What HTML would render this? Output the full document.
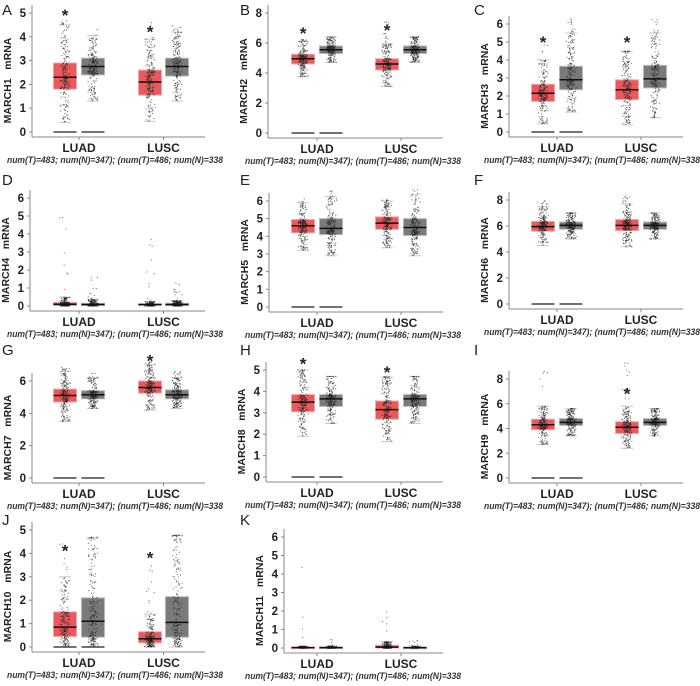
<!DOCTYPE html>
<html><head><meta charset="utf-8"><style>
html,body{margin:0;padding:0;background:#fff;}
svg{display:block;font-family:"Liberation Sans",Arial,sans-serif;}
</style></head><body>
<svg id="fig" width="700" height="686" viewBox="0 0 700 686"></svg>
<script>
// ---- data ----
const panelLetters = ["A","B","C","D","E","F","G","H","I","J","K"];
const panelGenes = ["MARCH1","MARCH2","MARCH3","MARCH4","MARCH5","MARCH6","MARCH7","MARCH8","MARCH9","MARCH10","MARCH11"];
const categories = ["LUAD","LUSC"];
const groups = ["LUAD-T","LUAD-N","LUSC-T","LUSC-N"];
const tickMax = [5,8,6,6,6,8,6,5,8,5,6];
const tickStep = [1,2,1,1,1,2,2,1,2,1,1];
const q1 = [[1.8,2.4,1.55,2.35],[4.6,5.3,4.2,5.3],[1.7,2.35,1.8,2.45],[0.02,0.02,0.02,0.02],[4.2,4.1,4.4,4.05],[5.6,5.75,5.65,5.75],[4.7,4.9,5.25,4.9],[3.05,3.3,2.7,3.3],[3.9,4.25,3.6,4.25],[0.45,0.42,0.18,0.42],[0,0,0,0]];
const med = [[2.3,2.75,2.1,2.75],[4.95,5.55,4.6,5.55],[2.15,2.9,2.35,2.95],[0.1,0.08,0.08,0.08],[4.6,4.45,4.75,4.5],[5.95,6.05,6.05,6.05],[5.1,5.15,5.6,5.15],[3.5,3.65,3.15,3.65],[4.3,4.5,4.1,4.5],[0.85,1.1,0.35,1.05],[0.02,0.02,0.05,0.02]];
const q3 = [[2.9,3.1,2.6,3.1],[5.25,5.8,4.95,5.8],[2.65,3.65,2.9,3.7],[0.2,0.15,0.12,0.15],[4.95,5.0,5.1,5.0],[6.35,6.3,6.5,6.3],[5.5,5.4,6.0,5.45],[3.85,3.85,3.55,3.85],[4.75,4.8,4.55,4.8],[1.5,2.1,0.65,2.15],[0.05,0.05,0.15,0.04]];
const wlo = [[0.4,1.3,0.45,1.3],[3.75,4.7,3.1,4.7],[0.45,1.1,0.4,0.8],[0,0,0,0],[3.2,2.9,3.35,2.9],[4.5,5.0,4.4,5.0],[3.5,4.3,4.2,4.3],[1.9,2.5,1.65,2.5],[2.7,3.4,2.4,3.4],[0,0,0,0],[0,0,0,0]];
const whi = [[4.5,4.05,3.9,4.2],[6.1,6.4,5.95,6.4],[4.0,5.5,4.45,5.5],[0.5,0.38,0.25,0.3],[5.9,6.25,6.0,6.35],[7.5,7.0,7.7,7.0],[6.6,6.2,7.0,6.2],[5.0,4.7,4.65,4.7],[5.8,5.6,5.8,5.6],[3.0,4.65,1.4,4.75],[0.1,0.1,0.35,0.1]];
const tailMax = [[4.7,4.5,4.7,4.5],[6.3,6.4,7.5,6.4],[4.9,6.3,4.5,6.3],[6.5,1.6,4.1,1.6],[6.2,6.7,6.2,6.7],[8.0,7.0,8.3,7.0],[6.9,6.6,7.2,6.6],[5.0,4.7,4.7,4.7],[8.8,5.6,9.6,5.6],[4.9,4.7,3.7,4.8],[6.3,0.6,5.1,0.45]];
const zeroLine = [[1,1,0,0],[1,1,0,0],[1,1,0,0],[0,0,0,0],[1,1,0,0],[1,1,0,0],[1,1,0,0],[1,1,0,0],[1,1,0,0],[1,1,0,0],[0,0,0,0]];
const starLUAD = [5.0,6.8,5.1,null,null,null,null,5.4,null,4.2,null];
const starLUSC = [4.3,7.0,5.1,null,null,null,7.4,5.0,7.0,3.9,null];
const footnote = "num(T)=483; num(N)=347); (num(T)=486; num(N)=338";

// ---- layout (pixels) ----
const axisXs = [32,268,509,30,269,509,32,266,509,32,284];
const yTopPix = [13,13,24,198,201,200,381,370,379,530,537];
const yZeroPix = [132,133,132,306,307,304,478,477,478,647,648];
const colCenters = [[65,93,150,177],[303,331,387,415],[543,571,627,655]];
const colX = [0,232,466];
const noteX = [7,245,484];
const rowY = [0,170,340,510];

const NS = "http://www.w3.org/2000/svg";
const svg = document.getElementById("fig");
function mk(tag, attrs, parent){const e=document.createElementNS(NS,tag);for(const k in attrs)e.setAttribute(k,attrs[k]);(parent||svg).appendChild(e);return e;}
let seed = 12345;
function rnd(){seed=(seed*1103515245+12345)%2147483648;return seed/2147483648;}

for(let p=0;p<11;p++){
  const col = p%3, row = Math.floor(p/3);
  const cc = colCenters[p===10?1:col];
  const ax = axisXs[p], yt = yTopPix[p], y0 = yZeroPix[p];
  const ys = v => y0 - (v/tickMax[p])*(y0-yt);
  const g = mk("g",{});
  
  
  const L = mk("text",{x:colX[col]+(col===0?2:8),y:rowY[row]+15,"font-size":"15",fill:"#222"},g);
  L.textContent = panelLetters[p];
  
  
  const xEnd = cc[3]+28;
  const yax = mk("line",{x1:ax,y1:yt-8,x2:ax,y2:y0+5,stroke:"#888","stroke-width":1},g);
  
  
  const xax = mk("line",{x1:ax,y1:y0+5,x2:xEnd,y2:y0+5,stroke:"#888","stroke-width":1},g);
  
  
  for(let v=0; v<=tickMax[p]+1e-9; v+=tickStep[p]){
    const y = ys(v);
    mk("line",{x1:ax-3,y1:y,x2:ax,y2:y,stroke:"#888"},g);
    const t = mk("text",{x:ax-6,y:y+4,"font-size":"11.5","font-weight":"bold","text-anchor":"end",fill:"#222"},g);
    t.textContent = v;
    
    
  }
  const ym = (yt+y0)/2 + 8;
  const yl = mk("text",{x:0,y:0,"font-size":"10.5","font-weight":"bold","text-anchor":"middle",fill:"#222",transform:`translate(${ax-21},${ym}) rotate(-90)`},g);
  yl.textContent = panelGenes[p]+"\u00a0\u00a0\u00a0mRNA";
  
  
  for(let c=0;c<2;c++){
    const cx = (cc[2*c]+cc[2*c+1])/2;
    mk("line",{x1:cx,y1:y0+5,x2:cx,y2:y0+8,stroke:"#888"},g);
    const t = mk("text",{x:cx,y:y0+20,"font-size":"12","font-weight":"bold","text-anchor":"middle",fill:"#222"},g);
    t.textContent = categories[c];
    
    
  }
  const fn = mk("text",{x:noteX[p===10?1:col],y:y0+31,"font-size":"8.8","font-weight":"bold","font-style":"italic",fill:"#333",textLength:216,lengthAdjust:"spacingAndGlyphs"},g);
  fn.textContent = footnote;
  
  
  for(let k=0;k<4;k++){
    const cx = cc[k], w = 23, tumor = (k%2===0);
    const fill = tumor ? "#ea5a5c" : "#7a7a7a";
    const edge = tumor ? "#f0a8a8" : "#b8b8b8";
    const qa=q1[p][k], qm=med[p][k], qb=q3[p][k], lo=wlo[p][k], hi=whi[p][k];
    mk("line",{x1:cx-6,y1:ys(hi),x2:cx+6,y2:ys(hi),stroke:"#c8c8c8","stroke-width":1},g);
    mk("line",{x1:cx-6,y1:ys(lo),x2:cx+6,y2:ys(lo),stroke:"#c8c8c8","stroke-width":1},g);
    const h = Math.max(1.5, ys(qa)-ys(qb));
    const box = mk("rect",{x:cx-w/2,y:ys(qb),width:w,height:h,fill:fill,stroke:edge,"stroke-width":1},g);
    
    
    const n = 220;
    const qs=[lo,qa,qm,qb,hi];
    for(let i=0;i<n;i++){
      let v;
      if(rnd()<0.03){ v = hi + rnd()*(tailMax[p][k]-hi); }
      else { const u=rnd()*4, s=Math.floor(u), f=u-s; v = qs[s]+(qs[Math.min(s+1,4)]-qs[s])*f; }
      const dx = (rnd()+rnd()-1)*5.5;
      mk("circle",{cx:cx+dx,cy:ys(v),r:0.6,fill:"#222","fill-opacity":0.6},g);
    }
    const md = mk("line",{x1:cx-w/2,y1:ys(qm),x2:cx+w/2,y2:ys(qm),stroke:"#111","stroke-width":1.5},g);
    
    
    if(zeroLine[p][k]){
      const z = mk("line",{x1:cx-w/2,y1:ys(0),x2:cx+w/2,y2:ys(0),stroke:"#444","stroke-width":1.6},g);
      
      
    }
  }
  const stars=[starLUAD[p],starLUSC[p]];
  for(let c=0;c<2;c++){
    if(stars[c]===null) continue;
    const s = mk("text",{x:cc[2*c],y:ys(stars[c])+8,"font-size":"17","font-weight":"bold","text-anchor":"middle",fill:"#222"},g);
    s.textContent="*";
    
    
  }
}
</script>
</body></html>
